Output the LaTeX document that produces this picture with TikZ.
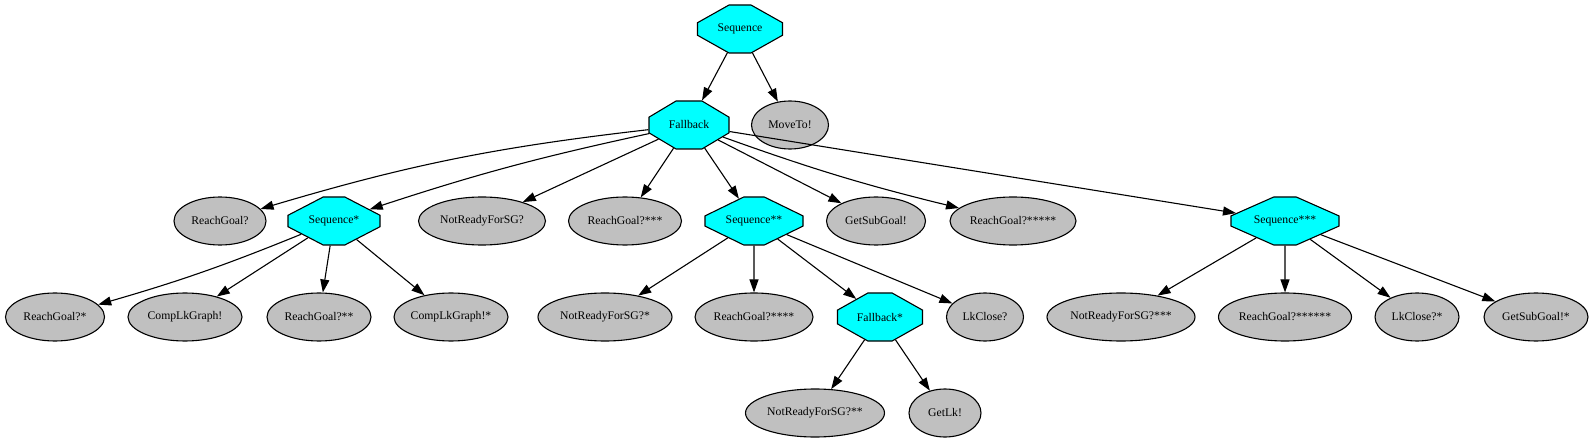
\documentclass[tikz,border=0pt]{standalone}
\usepackage{fontspec}
\setmainfont{Liberation Serif}
\usetikzlibrary{shapes.geometric,shapes.misc,arrows.meta}
\definecolor{leafgray}{RGB}{192,192,192}
\definecolor{ctrlcyan}{RGB}{0,255,255}
\begin{document}
\begin{tikzpicture}[x=1pt, y=-1pt,
  ctrl/.style={chamfered rectangle, chamfered rectangle angle={atan(0.293*#1/14)},
               chamfered rectangle xsep={0.293*#1pt}, chamfered rectangle ysep=14pt,
               minimum width=#1pt, minimum height=48pt, inner sep=0pt, fill=ctrlcyan, draw=black,
               line width=1.1pt, font=\fontsize{11.7}{14}\selectfont},
  leaf/.style={ellipse, minimum width=#1pt, minimum height=48pt, inner sep=0pt, fill=leafgray, draw=black,
               line width=1.1pt, font=\fontsize{11.7}{14}\selectfont},
  conn/.style={-{Triangle[length=13pt,width=9pt]}, line width=1.1pt}
]
\useasboundingbox (0,0) rectangle (1594,443);

% Root and first level
\node[ctrl=85] (sq0) at (740,29)  {Sequence};
\node[ctrl=80] (fb0) at (689,125) {Fallback};
\node[leaf=77] (mv0) at (790,125) {MoveTo!};

% Second level
\node[leaf=92]  (rg0) at (220,221)  {ReachGoal?};
\node[ctrl=92]  (sq1) at (334,221)  {Sequence*};
\node[leaf=127] (nr0) at (482,221)  {NotReadyForSG?};
\node[leaf=113] (rg3) at (625,221)  {ReachGoal?***};
\node[ctrl=98]  (sq2) at (754,221)  {Sequence**};
\node[leaf=99]  (gs0) at (876,221)  {GetSubGoal!};
\node[leaf=126] (rg5) at (1013,221) {ReachGoal?*****};
\node[ctrl=108] (sq3) at (1285,221) {Sequence***};

% Third level
\node[leaf=99]  (rg1) at (55,317)   {ReachGoal?*};
\node[leaf=114] (cg0) at (185,317)  {CompLkGraph!};
\node[leaf=104] (rg2) at (319,317)  {ReachGoal?**};
\node[leaf=114] (cg1) at (451,317)  {CompLkGraph!*};
\node[leaf=134] (nr1) at (605,317)  {NotReadyForSG?*};
\node[leaf=118] (rg4) at (754,317)  {ReachGoal?****};
\node[ctrl=85]  (fb1) at (880,317)  {Fallback*};
\node[leaf=77]  (lk0) at (985,317)  {LkClose?};
\node[leaf=148] (nr3) at (1121,317) {NotReadyForSG?***};
\node[leaf=133] (rg6) at (1285,317) {ReachGoal?******};
\node[leaf=84]  (lk1) at (1417,317) {LkClose?*};
\node[leaf=104] (gs1) at (1536,317) {GetSubGoal!*};

% Fourth level
\node[leaf=139] (nr2) at (815,413) {NotReadyForSG?**};
\node[leaf=72]  (gl0) at (945,413) {GetLk!};

% Sequence -> children
\draw[conn] (sq0) -- (fb0);
\draw[conn] (sq0) -- (mv0);

% Fallback -> children
\draw[conn] (fb0) to[bend right=5] (rg0);
\draw[conn] (fb0) to[bend right=3] (sq1);
\draw[conn] (fb0) -- (nr0);
\draw[conn] (fb0) -- (rg3);
\draw[conn] (fb0) -- (sq2);
\draw[conn] (fb0) -- (gs0);
\draw[conn] (fb0) to[bend right=3] (rg5);
\draw[conn] (fb0) -- (sq3);

% Sequence* -> children
\draw[conn] (sq1) to[bend left=3] (rg1);
\draw[conn] (sq1) -- (cg0);
\draw[conn] (sq1) -- (rg2);
\draw[conn] (sq1) -- (cg1);

% Sequence** -> children
\draw[conn] (sq2) -- (nr1);
\draw[conn] (sq2) -- (rg4);
\draw[conn] (sq2) -- (fb1);
\draw[conn] (sq2) -- (lk0);

% Fallback* -> children
\draw[conn] (fb1) -- (nr2);
\draw[conn] (fb1) -- (gl0);

% Sequence*** -> children
\draw[conn] (sq3) -- (nr3);
\draw[conn] (sq3) -- (rg6);
\draw[conn] (sq3) -- (lk1);
\draw[conn] (sq3) -- (gs1);
\end{tikzpicture}
\end{document}
